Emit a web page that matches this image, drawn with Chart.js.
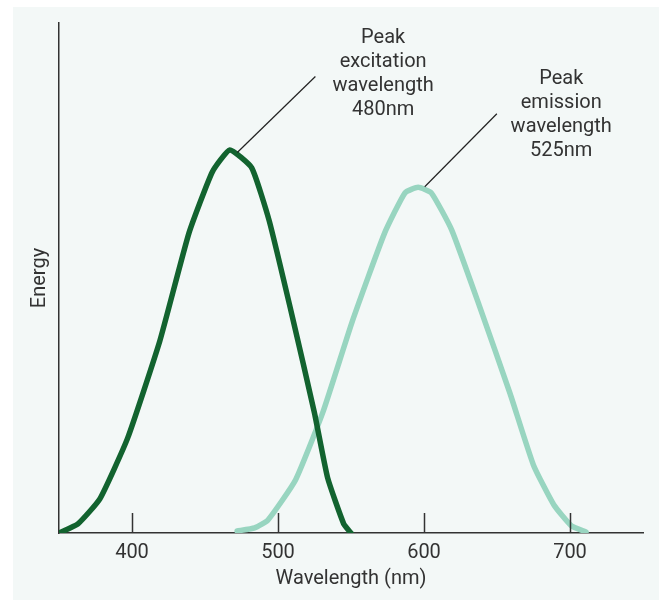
<!DOCTYPE html>
<html>
<head>
<meta charset="utf-8">
<script src="https://cdn.jsdelivr.net/npm/chart.js@4.4.0/dist/chart.umd.min.js"></script>
<style>
  html, body { margin: 0; padding: 0; background: #fff; }
  #wrap { width: 663px; height: 600px; }
</style>
</head>
<body>
<div id="wrap"><canvas id="myChart" width="663" height="600"></canvas></div>
<script>
// wavelength (nm) / relative energy
const excitationX = [350, 363, 378, 397, 419, 439, 455, 467, 482, 494, 510, 525, 534, 545, 550];
const excitationY = [0, 1.8, 6.7, 18.6, 37.6, 58.8, 70.8, 75.1, 71.6, 61.2, 42.2, 23.5, 10.8, 1.8, 0];
const emissionX = [472, 484, 493, 512, 531, 551, 573, 587, 596, 605, 619, 638, 659, 675, 689, 701, 711];
const emissionY = [0.4, 1, 2.5, 10.4, 23.9, 41.6, 58.8, 66.7, 67.8, 66.7, 59.4, 44.5, 27.3, 13.3, 5.5, 1.4, 0.2];
const xTicks = [400, 500, 600, 700];

// callouts, in data units
const notes = [
    { lines: ['Peak', 'excitation', 'wavelength', '480nm'], x: 572, y: 97.1, from: [525.6, 89.5], to: [472.1, 74.6] },
    { lines: ['Peak', 'emission', 'wavelength', '525nm'], x: 694, y: 89.0, from: [649.9, 82.2], to: [600.5, 67.9] }
];

const FONT = 'Roboto, "Liberation Sans", Arial, sans-serif';
const toPts = (xs, ys) => xs.map((x, i) => ({ x: x, y: ys[i] }));

const extras = {
    id: 'extras',
    beforeDraw(chart) {
        const ctx = chart.ctx;
        ctx.save();
        ctx.fillStyle = '#ffffff';
        ctx.fillRect(0, 0, chart.width, chart.height);
        ctx.fillStyle = '#f3f8f7';
        ctx.fillRect(13, 7, 646, chart.height - 7);
        ctx.restore();
    },
    afterDraw(chart) {
        const ctx = chart.ctx;
        const xs = chart.scales.x, ys = chart.scales.y;
        const base = chart.chartArea.bottom;
        ctx.save();
        // tick marks pointing up into the plot
        ctx.strokeStyle = '#333';
        ctx.lineWidth = 1.5;
        xTicks.forEach(t => {
            const px = Math.round(xs.getPixelForValue(t)) + 0.5;
            ctx.beginPath();
            ctx.moveTo(px, base);
            ctx.lineTo(px, base - 20);
            ctx.stroke();
        });
        // callouts
        notes.forEach(n => {
            ctx.strokeStyle = '#222';
            ctx.lineWidth = 1.2;
            ctx.beginPath();
            ctx.moveTo(xs.getPixelForValue(n.from[0]), ys.getPixelForValue(n.from[1]));
            ctx.lineTo(xs.getPixelForValue(n.to[0]), ys.getPixelForValue(n.to[1]));
            ctx.stroke();
            ctx.fillStyle = '#333';
            ctx.font = '20px ' + FONT;
            ctx.textAlign = 'center';
            ctx.textBaseline = 'middle';
            const cx = xs.getPixelForValue(n.x);
            const cy = ys.getPixelForValue(n.y);
            n.lines.forEach((l, i) => ctx.fillText(l, cx, cy + i * 24));
        });
        ctx.restore();
    }
};

const data = {
    datasets: [{
        label: 'Excitation',
        data: toPts(excitationX, excitationY),
        borderColor: '#12632f',
        borderWidth: 5.5,
        tension: 0.15
    }, {
        label: 'Emission',
        data: toPts(emissionX, emissionY),
        borderColor: '#98d5c0',
        borderWidth: 5.5,
        tension: 0.15
    }]
};

const config = {
    type: 'scatter',
    data: data,
    options: {
        responsive: false,
        animation: false,
        showLine: true,
        elements: {
            point: { radius: 0 },
            line: { borderCapStyle: 'round', borderJoinStyle: 'round', fill: false }
        },
        layout: { padding: { top: 23, right: 20, left: 0, bottom: 0 } },
        scales: {
            x: {
                type: 'linear',
                min: 350,
                max: 750,
                afterBuildTicks: (s) => { s.ticks = xTicks.map(v => ({ value: v })); },
                afterFit: (s) => { s.height = 67; },
                grid: { display: false, drawTicks: false },
                border: { display: true, color: '#333', width: 1.5 },
                ticks: { color: '#333', padding: 8, font: { family: FONT, size: 20 } },
                title: {
                    display: true,
                    text: 'Wavelength (nm)',
                    color: '#333',
                    font: { family: FONT, size: 20 },
                    padding: { top: 0, bottom: 9 }
                }
            },
            y: {
                min: 0,
                max: 100,
                afterFit: (s) => { s.width = 59; },
                grid: { display: false, drawTicks: false },
                border: { display: true, color: '#333', width: 1.5 },
                ticks: { display: false },
                title: {
                    display: true,
                    text: 'Energy',
                    color: '#333',
                    font: { family: FONT, size: 20 },
                    padding: { top: 28, bottom: 0 }
                }
            }
        },
        plugins: {
            legend: { display: false },
            tooltip: { enabled: false }
        }
    },
    plugins: [extras]
};

const myChart = new Chart(
    document.getElementById('myChart'),
    config
);
</script>
</body>
</html>
